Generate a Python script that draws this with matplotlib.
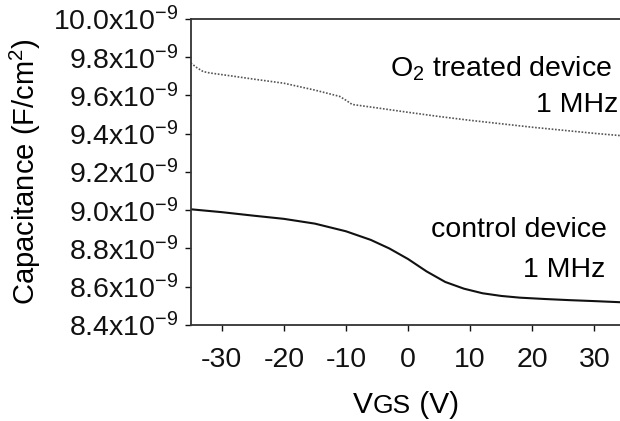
import matplotlib
matplotlib.use("Agg")
import matplotlib.pyplot as plt

plt.rcParams['font.family'] = ['Liberation Sans', 'DejaVu Sans']
plt.rcParams['mathtext.fontset'] = 'custom'
plt.rcParams['mathtext.rm'] = 'Liberation Sans'
plt.rcParams['mathtext.it'] = 'Liberation Sans'
plt.rcParams['axes.unicode_minus'] = False

# control device, 1 MHz  (V, capacitance in 1e-9 F/cm2)
v_ctrl = [-35, -30, -25, -20, -15, -10, -6, -3, 0, 3, 6, 9, 12, 15, 18, 22, 26, 30, 35]
c_ctrl = [9.005, 8.99, 8.972, 8.955, 8.93, 8.89, 8.845, 8.80, 8.745, 8.68, 8.625,
          8.59, 8.566, 8.552, 8.543, 8.536, 8.530, 8.525, 8.518]

# O2 treated device, 1 MHz
v_o2 = [-35, -34, -33, -32, -28, -25, -20, -15, -11, -10, -9, -5, 0, 5, 10, 15, 20, 25, 30, 35]
c_o2 = [9.77, 9.745, 9.725, 9.718, 9.70, 9.686, 9.664, 9.628, 9.595, 9.575, 9.553,
        9.535, 9.512, 9.49, 9.47, 9.452, 9.434, 9.418, 9.402, 9.388]

xticks = [-30, -20, -10, 0, 10, 20, 30]
yticks = [8.4, 8.6, 8.8, 9.0, 9.2, 9.4, 9.6, 9.8, 10.0]
ylabels = ["%.1fx10$^{\\mathregular{-9}}$" % t for t in yticks]

FS = 20.5

fig = plt.figure(figsize=(6.2, 4.21), dpi=100)
ax = fig.add_axes([0.3076, 0.228, 0.701, 0.727])

ax.plot(v_ctrl, [c * 1e-9 for c in c_ctrl], color="#111111", lw=1.5)
ax.plot(v_o2, [c * 1e-9 for c in c_o2], color="#555555", lw=1.2, ls=(0, (1, 1)))

ax.set_xlim(-35, 35)
ax.set_ylim(8.4e-9, 10.0e-9)
ax.set_xticks(xticks)
ax.set_xticklabels([str(t) for t in xticks])
ax.set_yticks([t * 1e-9 for t in yticks])
ax.set_yticklabels(ylabels)
ax.tick_params(direction="out", length=4, width=1, labelsize=FS, colors="#111111", pad=5)
ax.tick_params(axis="x", pad=12)

for s in ax.spines.values():
    s.set_linewidth(1.3)
    s.set_color("#333333")

ax.set_ylabel("Capacitance (F/cm$^{\\mathregular{2}}$)", fontsize=FS + 0.5, labelpad=7)

# x label: V with smaller GS on the same baseline
fig.canvas.draw()
t1 = fig.text(353 / 620, 1 - 413 / 421, "V", fontsize=FS + 1, ha="left", va="baseline")
fig.canvas.draw()
bb = t1.get_window_extent()
t2 = fig.text(bb.x1 / 620, 1 - 413 / 421, "GS", fontsize=FS - 1.5, ha="left", va="baseline")
fig.canvas.draw()
bb = t2.get_window_extent()
fig.text(bb.x1 / 620, 1 - 413 / 421, " (V)", fontsize=FS + 1, ha="left", va="baseline")

ax.text(32.8, 9.697e-9, "O$_{\\mathregular{2}}$ treated device", fontsize=FS, ha="right", va="baseline")
ax.text(33.8, 9.514e-9, "1 MHz", fontsize=FS, ha="right", va="baseline")
ax.text(32.0, 8.862e-9, "control device", fontsize=FS, ha="right", va="baseline")
ax.text(31.7, 8.653e-9, "1 MHz", fontsize=FS, ha="right", va="baseline")

fig.savefig("out.png", dpi=100)
